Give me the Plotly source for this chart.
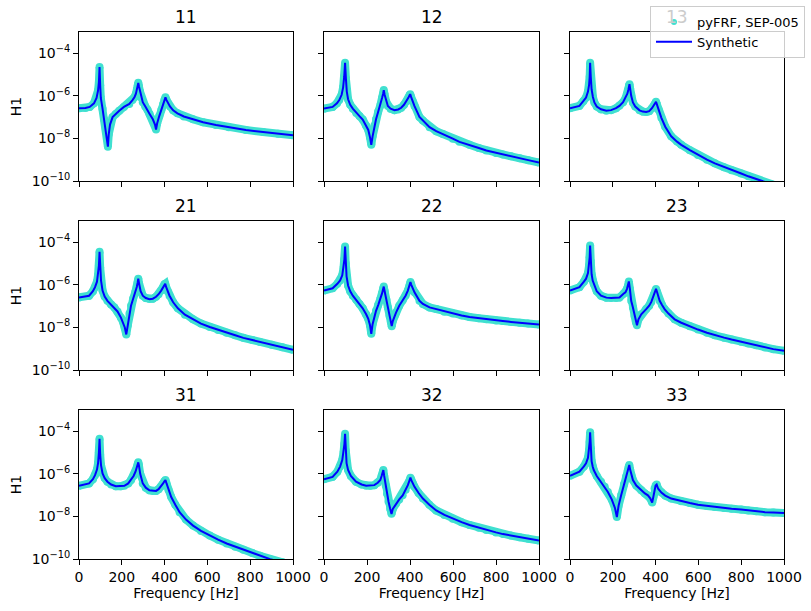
import plotly.graph_objects as go

# ---------------- data (log10 of |H1|) ----------------
titles = ["11", "12", "13", "21", "22", "23", "31", "32", "33"]

f11 = [0, 30, 50, 70, 82, 89, 93, 96, 99, 102, 110, 117, 125, 131, 135, 139, 145, 157, 172, 188,
       210, 235, 250, 259, 266, 271, 275, 277, 280, 285, 292, 298, 310, 320, 330, 345, 355, 360, 365, 375,
       385, 393, 399, 404, 409, 416, 425, 440, 460, 490, 533, 580, 640, 700, 780, 860, 930, 1000]
v11 = [-6.58, -6.57, -6.52, -6.35, -6.1, -5.75, -5.35, -4.65, -5.5, -6.1, -6.6, -7.1, -7.55, -8.0, -8.39, -7.8, -7.35, -7.0, -6.85, -6.7,
       -6.52, -6.38, -6.2, -6.07, -5.9, -5.7, -5.5, -5.39, -5.55, -5.8, -6.1, -6.3, -6.5, -6.65, -6.85, -7.1, -7.35, -7.58, -7.3, -6.95,
       -6.65, -6.4, -6.2, -6.07, -6.2, -6.35, -6.5, -6.68, -6.82, -6.97, -7.1, -7.24, -7.37, -7.47, -7.6, -7.7, -7.78, -7.85]

f12 = [0, 40, 60, 71, 82, 89, 94, 98, 102, 106, 112, 122, 134, 150, 165, 180, 196, 206, 214, 220,
       226, 234, 242, 252, 262, 270, 275, 278, 282, 290, 297, 310, 328, 345, 359, 372, 385, 393, 398, 401,
       405, 412, 421, 444, 460, 491, 522, 553, 599, 630, 677, 720, 755, 800, 832, 870, 910, 950, 1000]
v12 = [-6.6, -6.52, -6.35, -6.2, -5.95, -5.6, -5.1, -4.45, -5.2, -5.8, -6.16, -6.42, -6.6, -6.8, -6.95, -7.11, -7.4, -7.6, -7.95, -8.3,
       -7.9, -7.4, -7.1, -6.75, -6.45, -6.1, -5.9, -5.73, -5.95, -6.3, -6.48, -6.6, -6.67, -6.64, -6.56, -6.42, -6.24, -6.08, -5.97, -5.92,
       -6.05, -6.25, -6.48, -6.99, -7.16, -7.47, -7.66, -7.79, -8.01, -8.16, -8.3, -8.45, -8.57, -8.68, -8.75, -8.84, -8.93, -9.02, -9.13]

f13 = [0, 44, 62, 75, 84, 89, 92, 94, 97, 101, 107, 114, 125, 145, 170, 192, 215, 231, 248, 260,
       268, 273, 276, 278, 281, 286, 294, 305, 325, 340, 356, 370, 383, 393, 399, 402, 406, 414, 427, 445,
       473, 500, 520, 560, 598, 640, 677, 720, 755, 800, 833, 880, 940, 1000]
v13 = [-6.58, -6.47, -6.25, -6.08, -5.8, -5.5, -5.1, -4.45, -5.1, -5.7, -6.05, -6.31, -6.5, -6.63, -6.7, -6.67, -6.58, -6.47, -6.3, -6.1,
       -5.9, -5.7, -5.52, -5.45, -5.65, -6.0, -6.31, -6.5, -6.68, -6.74, -6.76, -6.72, -6.58, -6.45, -6.33, -6.28, -6.4, -6.65, -7.03, -7.45,
       -7.9, -8.15, -8.3, -8.55, -8.78, -9.0, -9.17, -9.35, -9.49, -9.65, -9.78, -9.95, -10.15, -10.35]

f21 = [0, 47, 65, 75, 84, 89, 93, 96, 99, 103, 110, 120, 133, 150, 165, 180, 196, 206, 214, 221,
       228, 236, 243, 253, 263, 270, 274, 277, 281, 288, 298, 312, 329, 345, 360, 372, 384, 393, 399, 403,
       407, 414, 423, 440, 462, 495, 533, 570, 611, 650, 690, 730, 768, 810, 846, 900, 950, 1000]
v21 = [-6.59, -6.51, -6.3, -6.11, -5.85, -5.55, -5.1, -4.45, -5.2, -5.8, -6.27, -6.55, -6.75, -6.92, -7.06, -7.25, -7.54, -7.75, -8.0, -8.33,
       -7.9, -7.35, -6.98, -6.65, -6.35, -6.1, -5.9, -5.71, -5.95, -6.3, -6.51, -6.62, -6.67, -6.65, -6.56, -6.44, -6.27, -6.1, -5.98, -5.95,
       -6.1, -6.3, -6.51, -6.82, -7.1, -7.4, -7.62, -7.82, -7.98, -8.12, -8.25, -8.37, -8.49, -8.59, -8.68, -8.81, -8.93, -9.05]

f22 = [0, 40, 62, 75, 85, 91, 95, 98, 101, 105, 112, 122, 134, 150, 165, 180, 196, 206, 214, 220,
       226, 234, 242, 252, 262, 270, 275, 278, 282, 290, 297, 305, 311, 315, 320, 328, 335, 350, 366, 380,
       390, 397, 402, 406, 413, 421, 444, 460, 491, 522, 560, 599, 640, 677, 720, 755, 800, 832, 870, 910,
       950, 1000]
v22 = [-6.27, -6.16, -5.95, -5.79, -5.55, -5.2, -4.8, -4.2, -5.0, -5.6, -6.03, -6.3, -6.51, -6.7, -6.9, -7.1, -7.38, -7.6, -7.9, -8.3,
       -7.85, -7.45, -7.22, -6.95, -6.67, -6.4, -6.2, -6.08, -6.3, -6.7, -7.06, -7.45, -7.75, -7.94, -7.7, -7.46, -7.3, -6.98, -6.72, -6.5,
       -6.27, -6.05, -5.87, -6.0, -6.2, -6.35, -6.75, -6.9, -7.06, -7.14, -7.26, -7.35, -7.44, -7.51, -7.57, -7.62, -7.67, -7.7, -7.74, -7.78,
       -7.82, -7.86]

f23 = [0, 44, 65, 75, 84, 89, 92, 94, 97, 101, 106, 111, 125, 145, 170, 192, 215, 231, 250, 259,
       266, 271, 275, 280, 286, 294, 302, 308, 313, 320, 333, 356, 370, 380, 392, 398, 402, 407, 419, 430,
       442, 460, 489, 520, 560, 598, 640, 677, 720, 755, 800, 833, 870, 911, 950, 1000]
v23 = [-6.27, -6.11, -5.85, -5.71, -5.45, -5.1, -4.7, -4.15, -4.9, -5.5, -5.8, -5.95, -6.3, -6.51, -6.6, -6.62, -6.62, -6.59, -6.42, -6.35,
       -6.2, -6.05, -5.84, -6.2, -6.75, -7.06, -7.46, -7.75, -7.9, -7.62, -7.38, -7.14, -6.98, -6.8, -6.46, -6.3, -6.19, -6.35, -6.75, -6.95,
       -7.14, -7.35, -7.62, -7.78, -7.95, -8.1, -8.25, -8.37, -8.48, -8.57, -8.67, -8.76, -8.84, -8.94, -9.02, -9.1]

f31 = [0, 47, 65, 75, 84, 89, 93, 96, 99, 103, 110, 120, 133, 150, 172, 195, 212, 230, 243, 255,
       264, 270, 274, 277, 280, 286, 298, 312, 329, 345, 360, 372, 384, 393, 399, 404, 409, 418, 431, 450,
       470, 500, 533, 570, 611, 650, 690, 730, 768, 810, 846, 893, 950, 1000]
v31 = [-6.56, -6.45, -6.25, -6.06, -5.8, -5.5, -5.0, -4.35, -5.1, -5.6, -5.98, -6.2, -6.37, -6.5, -6.58, -6.58, -6.56, -6.45, -6.29, -6.1,
       -5.9, -5.7, -5.55, -5.46, -5.6, -6.0, -6.45, -6.65, -6.77, -6.8, -6.8, -6.72, -6.58, -6.45, -6.35, -6.29, -6.45, -6.75, -7.09, -7.45,
       -7.8, -8.15, -8.43, -8.68, -8.9, -9.09, -9.27, -9.42, -9.57, -9.72, -9.85, -10.01, -10.15, -10.3]

f32 = [0, 40, 62, 75, 85, 91, 95, 98, 101, 105, 112, 125, 149, 175, 196, 215, 234, 250, 262, 268,
       273, 276, 280, 287, 293, 300, 308, 314, 320, 335, 350, 366, 380, 390, 397, 402, 406, 413, 421, 440,
       460, 490, 522, 560, 599, 640, 677, 720, 755, 800, 832, 870, 910, 950, 1000]
v32 = [-6.25, -6.14, -5.9, -5.66, -5.35, -5.0, -4.6, -4.12, -4.9, -5.5, -5.82, -6.1, -6.37, -6.5, -6.56, -6.56, -6.53, -6.42, -6.29, -6.1,
       -5.95, -5.82, -6.1, -6.55, -6.93, -7.3, -7.65, -7.88, -7.65, -7.4, -7.2, -7.01, -6.75, -6.53, -6.33, -6.18, -6.3, -6.45, -6.61, -6.9,
       -7.16, -7.45, -7.72, -7.93, -8.11, -8.27, -8.4, -8.53, -8.64, -8.75, -8.83, -8.9, -8.98, -9.05, -9.13]

f33 = [0, 44, 65, 75, 84, 89, 92, 94, 97, 101, 106, 111, 125, 145, 162, 177, 195, 210, 219, 227,
       239, 252, 262, 270, 274, 277, 281, 287, 294, 310, 333, 350, 364, 375, 384, 389, 395, 400, 405, 412,
       427, 445, 473, 520, 560, 598, 640, 677, 720, 755, 800, 833, 870, 911, 950, 1000]
v33 = [-6.09, -5.9, -5.65, -5.5, -5.25, -4.9, -4.5, -4.05, -4.8, -5.4, -5.65, -5.82, -6.1, -6.37, -6.6, -6.85, -7.2, -7.6, -8.03, -7.5,
       -7.01, -6.5, -6.14, -5.85, -5.68, -5.58, -5.8, -6.1, -6.29, -6.55, -6.77, -6.92, -7.01, -7.15, -7.35, -7.1, -6.69, -6.55, -6.5, -6.7,
       -6.88, -7.02, -7.16, -7.29, -7.37, -7.45, -7.51, -7.56, -7.6, -7.64, -7.68, -7.72, -7.76, -7.8, -7.82, -7.84]

freqs = [f11, f12, f13, f21, f22, f23, f31, f32, f33]
logs = [v11, v12, v13, v21, v22, v23, v31, v32, v33]
for fa, va in zip(freqs, logs):
    assert len(fa) == len(va), (len(fa), len(va))

x_ticks = [0, 200, 400, 600, 800, 1000]
y_ticks = [1e-10, 1e-8, 1e-6, 1e-4]
y_tick_text = ["10<sup>\u221210</sup>", "10<sup>\u22128</sup>", "10<sup>\u22126</sup>", "10<sup>\u22124</sup>"]

# ---------------- figure ----------------
W, H = 811, 611
TURQ = "#40E0D0"
BLUE = "#0000FF"
FONT = "DejaVu Sans"

col_px = [(79, 293), (324, 539), (570, 784)]
row_px = [(32, 181), (221, 370), (410, 559)]

fig = go.Figure()

# legend-only entry for the measured data (marker symbol)
fig.add_trace(go.Scatter(x=[None], y=[None], mode="markers", name="pyFRF, SEP-005",
                         marker=dict(color=TURQ, size=6), showlegend=True))

layout = dict(
    width=W, height=H, margin=dict(l=0, r=0, t=0, b=0),
    paper_bgcolor="white", plot_bgcolor="white",
    font=dict(family=FONT, size=14, color="black"),
    showlegend=True,
    legend=dict(x=805 / W, y=1 - 6 / H, xanchor="right", yanchor="top",
                bgcolor="rgba(255,255,255,0.8)", bordercolor="#cccccc", borderwidth=1,
                font=dict(family=FONT, size=13), tracegroupgap=0, itemwidth=36),
    annotations=[],
)

for i in range(9):
    r, c = divmod(i, 3)
    sx = "" if i == 0 else str(i + 1)
    x0, x1 = col_px[c]
    y0, y1 = row_px[r]
    xs = freqs[i]
    ys = [10 ** v for v in logs[i]]
    fig.add_trace(go.Scatter(x=xs, y=ys, mode="lines+markers", xaxis="x" + sx, yaxis="y" + sx,
                             line=dict(color=TURQ, width=8), marker=dict(color=TURQ, size=8),
                             showlegend=False, name="pyFRF, SEP-005", hoverinfo="skip"))
    fig.add_trace(go.Scatter(x=xs, y=ys, mode="lines", xaxis="x" + sx, yaxis="y" + sx,
                             line=dict(color=BLUE, width=2), name="Synthetic",
                             showlegend=(i == 0)))
    xa = dict(domain=[x0 / W, x1 / W], range=[0, 1000], anchor="y" + sx,
              showline=True, mirror=True, linecolor="black", linewidth=1,
              ticks="outside", ticklen=5, tickcolor="black", tickwidth=1,
              tickvals=x_ticks, showticklabels=(r == 2), showgrid=False, zeroline=False,
              tickfont=dict(size=14), automargin=False)
    if r == 2:
        xa["title"] = dict(text="Frequency [Hz]", font=dict(size=14), standoff=4)
    ya = dict(domain=[1 - y1 / H, 1 - y0 / H], type="log", range=[-10, -3], anchor="x" + sx,
              showline=True, mirror=True, linecolor="black", linewidth=1,
              ticks="outside", ticklen=5, tickcolor="black", tickwidth=1,
              tickvals=y_ticks, ticktext=y_tick_text, showticklabels=(c == 0),
              showgrid=False, zeroline=False, tickfont=dict(size=14), automargin=False)
    if c == 0:
        ya["title"] = dict(text="H1", font=dict(size=14), standoff=6)
    layout["xaxis" + sx] = xa
    layout["yaxis" + sx] = ya
    # the "13" title sits behind the semi-transparent legend in the reference
    tcolor = "#cccccc" if titles[i] == "13" else "black"
    layout["annotations"].append(dict(text=titles[i], x=(x0 + x1) / 2 / W, y=1 - y0 / H,
                                      xref="paper", yref="paper", xanchor="center", yanchor="bottom",
                                      yshift=3, showarrow=False,
                                      font=dict(family=FONT, size=17, color=tcolor)))

fig.update_layout(**layout)
fig.write_html("out.html")
